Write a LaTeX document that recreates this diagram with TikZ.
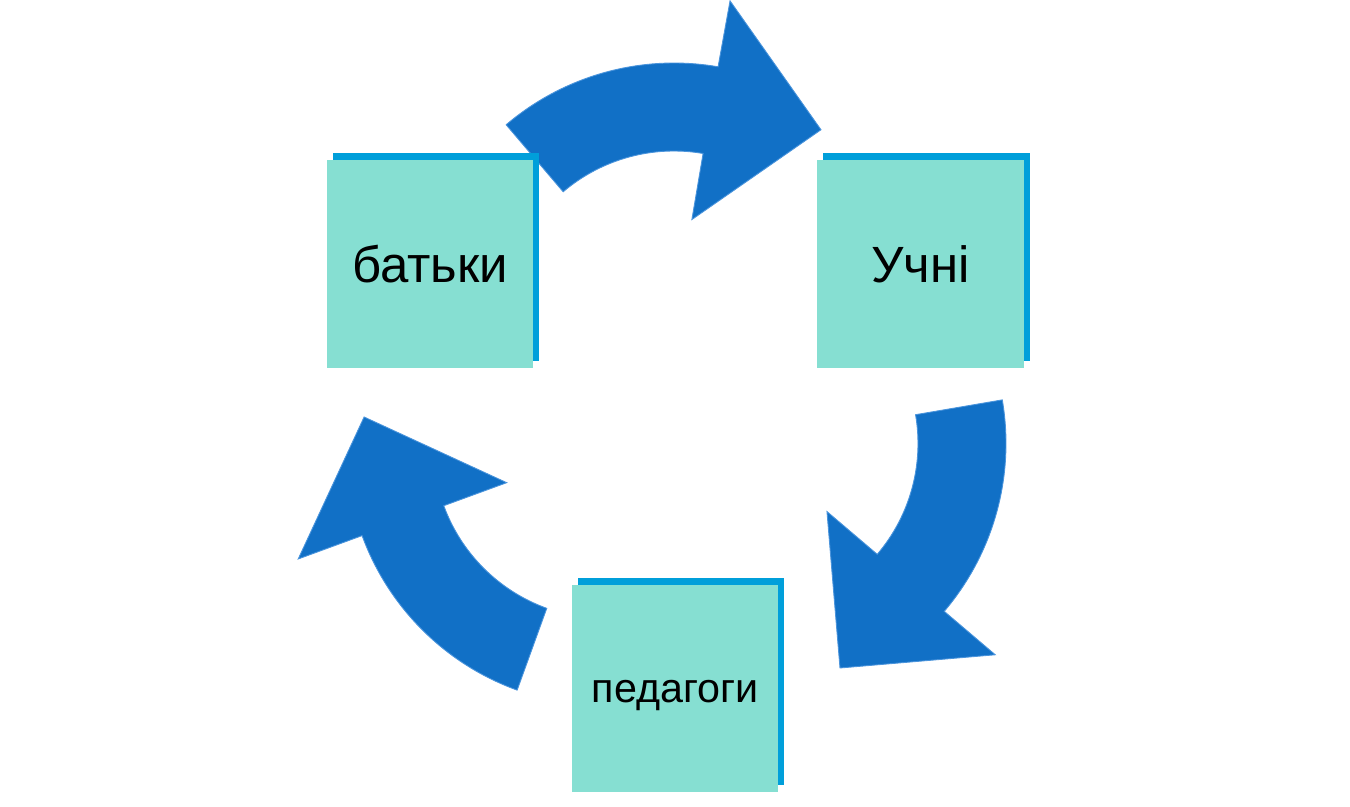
\documentclass[tikz,border=0pt]{standalone}
\usepackage{fontspec}
\setmainfont{Liberation Sans}
\usepackage{xcolor}
\usetikzlibrary{shadows}

\definecolor{boxteal}{HTML}{86DFD2}
\definecolor{shadowblue}{HTML}{009FDA}
\definecolor{arrowblue}{HTML}{1170C6}
\definecolor{arrowedge}{HTML}{4A94DC}

\tikzset{
	partner/.style={rectangle, fill=boxteal, inner sep=0pt,
		minimum width=4.14cm, minimum height=4.16cm,
		general shadow={fill=shadowblue, shadow xshift=0.12cm, shadow yshift=0.14cm}},
	cyclearrow/.style={fill=arrowblue, draw=arrowedge, line width=0.5pt}
}

\begin{document}
\begin{tikzpicture}[x=0.02cm, y=0.02cm]
	\useasboundingbox (0,0) rectangle (1350,806);
	
	% arrows
	\begin{scope}[shift={(674,484)}]
	\filldraw[cyclearrow] (130.4:259) arc[start angle=130.4, delta angle=-50.2, radius=259]
		-- (80.1:326) -- (52.6:242) -- (80.1:104)
		-- (80.2:171) arc[start angle=80.2, delta angle=50.2, radius=171] -- cycle;
	\end{scope}
	
	\begin{scope}[shift={(747,362.5)}]
	\filldraw[cyclearrow] (9.7:259) arc[start angle=9.7, delta angle=-50.1, radius=259]
		-- (-40.4:326) -- (-67.5:243) -- (-40.4:105)
		-- (-40.4:171) arc[start angle=-40.4, delta angle=50.1, radius=171] -- cycle;
	\end{scope}
	
	\begin{scope}[shift={(605.3,359.4)}]
	\filldraw[cyclearrow] (250.1:259) arc[start angle=250.1, delta angle=-50, radius=259]
		-- (200.1:327) -- (173:243) -- (200.1:105)
		-- (200.1:172) arc[start angle=200.1, delta angle=50, radius=172] -- cycle;
	\end{scope}
	
	% boxes
	\node[partner, font=\fontsize{29}{33}\selectfont] (parents) at (430,542) {батьки};
	\node[partner, font=\fontsize{29}{33}\selectfont] (pupils) at (920.5,542) {Учні\hspace{0.28cm}};
	\node[partner, text depth=0pt, font=\fontsize{23.5}{28}\selectfont] (teachers) at (675,117.5) {\raisebox{-0.1cm}{педагоги}};
	
\end{tikzpicture}
\end{document}
